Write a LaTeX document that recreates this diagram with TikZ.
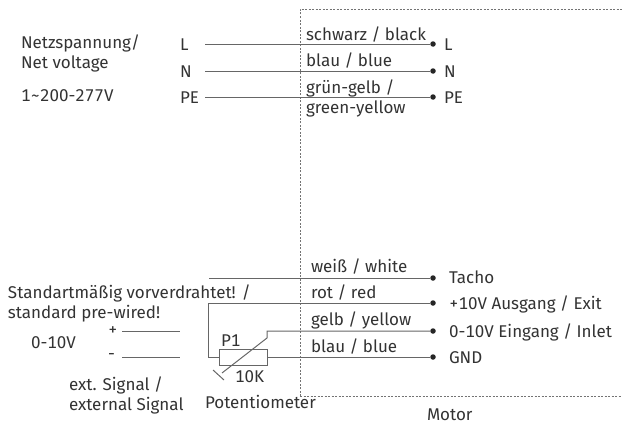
\documentclass[tikz,border=0pt]{standalone}
\usepackage{fontspec}
\setmainfont[Numbers={Monospaced,Lining}]{Fira Sans}
\definecolor{txt}{HTML}{333333}
\definecolor{wire}{HTML}{666666}
\tikzset{
  lbl/.style={anchor=base west,inner sep=0pt,outer sep=0pt,text=txt,font=\fontsize{17}{20}\selectfont},
  wirel/.style={draw=wire,line width=1pt},
  term/.style={circle,fill=black!85,inner sep=0pt,minimum size=5.5pt},
  frame/.style={draw=black!55,line width=0.9pt,dash pattern=on 2pt off 1.5pt},
  resist/.style={draw=wire,line width=1pt,fill=none,minimum width=48pt,minimum height=16pt,inner sep=0pt}
}
\begin{document}
\begin{tikzpicture}[x=1pt,y=-1pt]
\useasboundingbox (0,0) rectangle (622,423);
% motor frame
\coordinate (fb) at (300,396);
\coordinate (ft) at (300,9);
\coordinate (fr) at (622,9);
\coordinate (fbr) at (622,396);
\draw[frame] (fb) -- (ft) -- (fr);
\draw[frame] (fb) -- (fbr);
% terminals
\node[term] (tL) at (433,44) {};
\node[term] (tN) at (433,71) {};
\node[term] (tPE) at (433,97) {};
\node[term] (tT) at (433,278) {};
\node[term] (tP) at (433,303) {};
\node[term] (tE) at (433,331) {};
\node[term] (tG) at (433,357) {};
% free ends
\coordinate (sL) at (205,44);
\coordinate (sN) at (205,71);
\coordinate (sPE) at (205,97);
\coordinate (sT) at (209,278);
\coordinate (sP) at (208,303);
\coordinate (cP) at (208,357);
\node[resist] (R) at (243,357) {};
\coordinate (wE) at (267,331);
\coordinate (wD) at (267,338);
\coordinate (wA) at (222,373);
\coordinate (b1) at (213,370);
\coordinate (b2) at (224,380);
\coordinate (p1) at (122,331);
\coordinate (p2) at (180,331);
\coordinate (m1) at (122,357);
\coordinate (m2) at (180,357);
% wires
\draw[wirel] (sL) -- (tL);
\draw[wirel] (sN) -- (tN);
\draw[wirel] (sPE) -- (tPE);
\draw[wirel] (sT) -- (tT);
\draw[wirel] (tP) -- (sP) -- (cP) -- (R.west);
\draw[wirel] (R.east) -- (tG);
\draw[wirel] (tE) -- (wE) -- (wD) -- (wA);
\draw[wirel] (b1) -- (b2);
\draw[wirel] (p1) -- (p2);
\draw[wirel] (m1) -- (m2);
% labels
\node[lbl] at (21,48) {Netzspannung/};
\node[lbl] at (21,68) {Net voltage};
\node[lbl] at (21,101) {1\textasciitilde200-277V};
\node[lbl] at (180,50) {L};
\node[lbl] at (180,77) {N};
\node[lbl] at (180,103) {PE};
\node[lbl] at (306,40) {schwarz / black};
\node[lbl] at (306,66) {blau / blue};
\node[lbl] at (306,93) {grün-gelb /};
\node[lbl] at (306,113) {green-yellow};
\node[lbl] at (444,50) {L};
\node[lbl] at (444,77) {N};
\node[lbl] at (444,103) {PE};
\node[lbl] at (311,272) {weiß / white};
\node[lbl] at (311,298) {rot / red};
\node[lbl] at (311,325) {gelb / yellow};
\node[lbl] at (311,352) {blau / blue};
\node[lbl] at (449,283) {Tacho};
\node[lbl] at (449,309) {+10V Ausgang / Exit};
\node[lbl] at (449,337) {0-10V Eingang / Inlet};
\node[lbl] at (449,363) {GND};
\node[lbl] at (8,298) {Standartmäßig vorverdrahtet! /};
\node[lbl] at (8,318) {standard pre-wired!};
\node[lbl] at (31,348) {0-10V};
\node[lbl] at (108,335) {+};
\node[lbl] at (108,359) {-};
\node[lbl] at (221,346) {P1};
\node[lbl] at (235,382) {10K};
\node[lbl] at (69,390) {ext. Signal /};
\node[lbl] at (69,410) {external Signal};
\node[lbl] at (205,408) {Potentiometer};
\node[lbl] at (427,420) {Motor};
\end{tikzpicture}
\end{document}
